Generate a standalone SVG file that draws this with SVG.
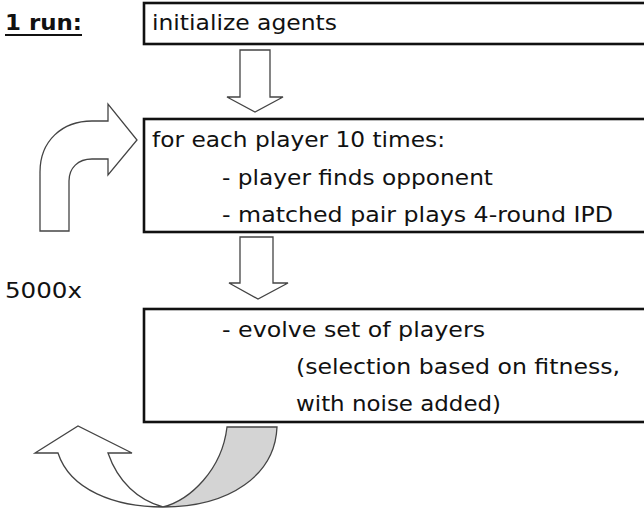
<svg xmlns="http://www.w3.org/2000/svg" width="644" height="510" viewBox="0 0 644 510">
  <style>
    .box { fill: #ffffff; stroke: #111111; stroke-width: 2.6; }
    .txt { font-family: "DejaVu Sans", "Liberation Sans", sans-serif; font-size: 22px; fill: #111111; }
    .lbl { font-family: "DejaVu Sans", "Liberation Sans", sans-serif; font-size: 21px; fill: #111111; }
    .arrow { fill: #ffffff; stroke: #444444; stroke-width: 1.3; stroke-linejoin: miter; }
    .back { fill: #d4d4d4; stroke: #444444; stroke-width: 1.3; }
  </style>
  <rect width="644" height="510" fill="#ffffff"/>

  <!-- side labels -->
  <g id="label-run">
    <text class="lbl" x="5" y="30" font-weight="bold" textLength="77" lengthAdjust="spacingAndGlyphs">1 run:</text>
    <line x1="5" y1="35" x2="82" y2="35" stroke="#111111" stroke-width="2.2"/>
  </g>
  <g id="label-repeat">
    <text class="lbl" x="5" y="298" textLength="77" lengthAdjust="spacingAndGlyphs">5000x</text>
  </g>

  <!-- step boxes -->
  <g id="node-init">
    <rect class="box" x="144" y="3" width="510" height="41"/>
    <text class="txt" x="152" y="30" textLength="185" lengthAdjust="spacingAndGlyphs">initialize agents</text>
  </g>
  <g id="node-play">
    <rect class="box" x="144" y="119" width="510" height="113"/>
    <text class="txt" x="152" y="147" textLength="293" lengthAdjust="spacingAndGlyphs">for each player 10 times:</text>
    <text class="txt" x="222" y="185" textLength="271" lengthAdjust="spacingAndGlyphs">- player finds opponent</text>
    <text class="txt" x="222" y="222" textLength="391" lengthAdjust="spacingAndGlyphs">- matched pair plays 4-round IPD</text>
  </g>
  <g id="node-evolve">
    <rect class="box" x="144" y="309" width="510" height="113"/>
    <text class="txt" x="222" y="337" textLength="263" lengthAdjust="spacingAndGlyphs">- evolve set of players</text>
    <text class="txt" x="296" y="374" textLength="324" lengthAdjust="spacingAndGlyphs">(selection based on fitness,</text>
    <text class="txt" x="296" y="411" textLength="205" lengthAdjust="spacingAndGlyphs">with noise added)</text>
  </g>

  <!-- connectors -->
  <g id="connectors">
    <!-- init -> play -->
    <path class="arrow" d="M240,50 L270,50 L270,97 L283,97 L255,112 L227,97 L240,97 Z"/>
    <!-- play -> evolve -->
    <path class="arrow" d="M240,237 L273,237 L273,283 L288,283 L258,299 L229,283 L240,283 Z"/>
    <!-- loop back into play -->
    <path class="arrow" d="M40,231 L40,172 C40,141 62,121 92,121 L108,121 L108,104 L137,140 L108,175 L108,159 L92,159 C78,159 69,168 69,181 L69,231 Z"/>
    <!-- return from evolve: back band -->
    <path class="back" d="M227,427 L277,427 C275,475 230,507 163,507 C190,500 222,470 227,427 Z"/>
    <!-- return from evolve: front band with head -->
    <path class="arrow" d="M35,453 L78,426 L132,453 L108,453 C118,482 138,500 163,507 C115,507 70,490 58,453 Z"/>
  </g>
</svg>
